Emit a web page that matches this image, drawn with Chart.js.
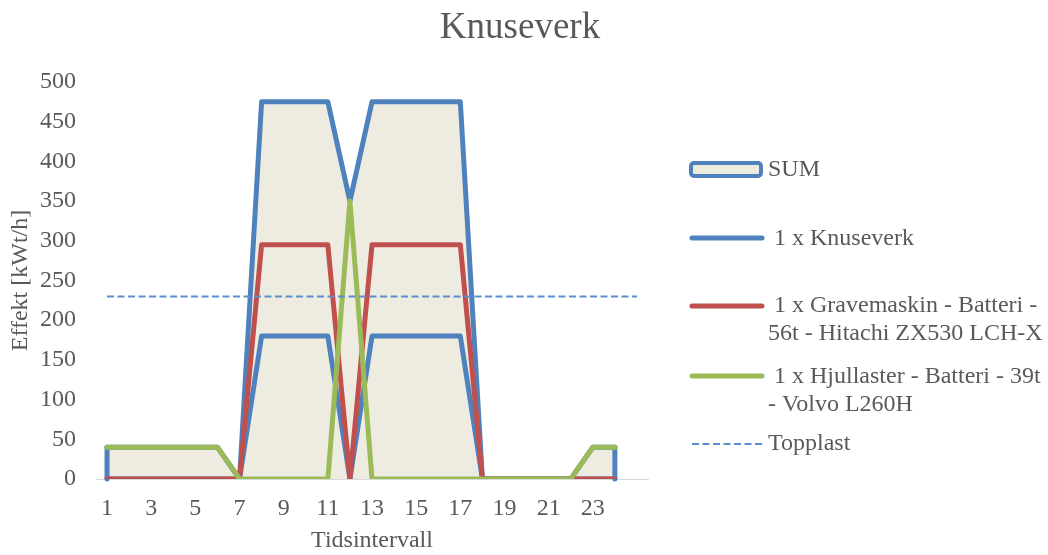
<!DOCTYPE html>
<html>
<head>
<meta charset="utf-8">
<script src="https://cdn.jsdelivr.net/npm/chart.js@4/dist/chart.umd.min.js"></script>
<style>
  html, body { margin: 0; padding: 0; background: #ffffff; }
  #wrap { width: 1048px; height: 555px; }
</style>
</head>
<body>
<div id="wrap"><canvas id="c" width="1048" height="555"></canvas></div>
<script>
// Time intervals (the last slot is an empty category used by the peak-load line)
const categories = ['1','2','3','4','5','6','7','8','9','10','11','12','13','14','15','16','17','18','19','20','21','22','23','24',''];

// Power per interval [kWt/h]
const sumValues        = [40,40,40,40,40,40,0,475,475,475,475,350,475,475,475,475,475,0,0,0,0,0,40,40];
const knuseverkValues  = [0,0,0,0,0,0,0,180,180,180,180,0,180,180,180,180,180,0,0,0,0,0,0,0];
const gravemaskinValues= [0,0,0,0,0,0,0,295,295,295,295,0,295,295,295,295,295,0,0,0,0,0,0,0];
const hjullasterValues = [40,40,40,40,40,40,0,0,0,0,0,350,0,0,0,0,0,0,0,0,0,0,40,40];
const topplastValues   = [230,230,230,230,230,230,230,230,230,230,230,230,230,230,230,230,230,230,230,230,230,230,230,230,230];

const yTicks = [0,50,100,150,200,250,300,350,400,450,500];

const chartTitle = 'Knuseverk';
const seriesNames = {
  sum: 'SUM',
  knuseverk: ' 1 x Knuseverk',
  gravemaskin: [' 1 x Gravemaskin - Batteri -', '56t - Hitachi ZX530 LCH-X'],
  hjullaster: [' 1 x Hjullaster - Batteri - 39t', '- Volvo L260H'],
  topplast: 'Topplast'
};

const BLUE = '#4F81BD', RED = '#C0504D', GREEN = '#9BBB59', BEIGE = '#EEECE1', DASH = '#5B8ED0';
const TEXT = '#595959';
const FONT = '"Liberation Serif", "Times New Roman", serif';

// Closes the SUM area outline with vertical edges at both ends
const areaEdges = {
  id: 'areaEdges',
  afterDatasetDraw(chart, args) {
    if (args.index !== 0) return;
    const meta = chart.getDatasetMeta(0);
    const pts = meta.data;
    const y0 = chart.scales.y.getPixelForValue(0);
    const ctx = chart.ctx;
    ctx.save();
    ctx.strokeStyle = BLUE;
    ctx.lineWidth = 5;
    ctx.lineCap = 'round';
    [pts[0], pts[pts.length - 1]].forEach(p => {
      ctx.beginPath();
      ctx.moveTo(p.x, y0);
      ctx.lineTo(p.x, p.y);
      ctx.stroke();
    });
    ctx.restore();
  }
};

// Chart heading centred on the full canvas width
const headline = {
  id: 'headline',
  afterDraw(chart) {
    const ctx = chart.ctx;
    ctx.save();
    ctx.font = '37px ' + FONT;
    ctx.fillStyle = TEXT;
    ctx.textAlign = 'center';
    ctx.textBaseline = 'middle';
    ctx.fillText(chartTitle, chart.width / 2 - 4, 28);
    ctx.restore();
  }
};

// Legend drawn to the right of the plot
const sideLegend = {
  id: 'sideLegend',
  afterDraw(chart) {
    const ctx = chart.ctx;
    const x0 = 692, x1 = 762, tx = 768;
    ctx.save();
    ctx.font = '24px ' + FONT;
    ctx.fillStyle = TEXT;
    ctx.textBaseline = 'middle';
    ctx.textAlign = 'left';

    // SUM: filled box with blue border
    const bx = 691, by = 163, bw = 70, bh = 13, r = 3;
    ctx.beginPath();
    ctx.roundRect(bx, by, bw, bh, r);
    ctx.fillStyle = BEIGE;
    ctx.fill();
    ctx.lineWidth = 4;
    ctx.strokeStyle = BLUE;
    ctx.stroke();
    ctx.fillStyle = TEXT;
    ctx.fillText(seriesNames.sum, tx, 170);

    const line = (y, color, width, dash) => {
      ctx.beginPath();
      ctx.setLineDash(dash || []);
      ctx.lineCap = dash ? 'butt' : 'round';
      ctx.strokeStyle = color;
      ctx.lineWidth = width;
      ctx.moveTo(x0, y);
      ctx.lineTo(x1, y);
      ctx.stroke();
      ctx.setLineDash([]);
    };

    line(238, BLUE, 5);
    ctx.fillText(seriesNames.knuseverk, tx, 239);

    line(306, RED, 5);
    ctx.fillText(seriesNames.gravemaskin[0], tx, 306);
    ctx.fillText(seriesNames.gravemaskin[1], tx, 334);

    line(376, GREEN, 5);
    ctx.fillText(seriesNames.hjullaster[0], tx, 377);
    ctx.fillText(seriesNames.hjullaster[1], tx, 405);

    line(444, DASH, 2, [7, 3.5]);
    ctx.fillText(seriesNames.topplast, tx, 444);
    ctx.restore();
  }
};

const common = { pointRadius: 0, pointHoverRadius: 0, tension: 0, borderJoinStyle: 'round', borderCapStyle: 'round' };

new Chart(document.getElementById('c'), {
  type: 'line',
  data: {
    labels: categories,
    datasets: [
      { ...common, label: seriesNames.sum, data: sumValues, borderColor: BLUE, backgroundColor: BEIGE, borderWidth: 5, fill: 'origin', order: 5 },
      { ...common, label: seriesNames.knuseverk, data: knuseverkValues, borderColor: BLUE, borderWidth: 5, fill: false, order: 4 },
      { ...common, label: seriesNames.gravemaskin.join(' '), data: gravemaskinValues, borderColor: RED, borderWidth: 5, fill: false, order: 3 },
      { ...common, label: seriesNames.hjullaster.join(' '), data: hjullasterValues, borderColor: GREEN, borderWidth: 5, fill: false, order: 2 },
      { ...common, label: seriesNames.topplast, data: topplastValues, borderColor: DASH, borderWidth: 2, borderDash: [7, 3.5], borderCapStyle: 'butt', fill: false, order: 1 }
    ]
  },
  options: {
    responsive: false,
    animation: false,
    events: [],
    layout: { padding: { left: 4, right: 400, top: 82, bottom: 0 } },
    plugins: {
      legend: { display: false },
      tooltip: { enabled: false },
      title: { display: false }
    },
    scales: {
      x: {
        offset: true,
        afterFit: (scale) => { scale.height = 76; },
        grid: { display: false, drawTicks: false },
        border: { display: true, color: '#D9D9D9', width: 1 },
        ticks: {
          autoSkip: false,
          maxRotation: 0,
          padding: 15,
          color: TEXT,
          font: { family: FONT, size: 24 },
          callback: (v, i) => (i % 2 === 0 ? categories[i] : '')
        },
        title: {
          display: true,
          text: 'Tidsintervall',
          color: TEXT,
          font: { family: FONT, size: 24 },
          padding: { top: 5, bottom: 0 }
        }
      },
      y: {
        min: yTicks[0],
        max: yTicks[yTicks.length - 1],
        afterBuildTicks: (scale) => { scale.ticks = yTicks.map(v => ({ value: v })); },
        afterFit: (scale) => { scale.width = 92; },
        grid: { display: false, drawTicks: false },
        border: { display: false },
        ticks: {
          padding: 20,
          color: TEXT,
          font: { family: FONT, size: 24 }
        },
        title: {
          display: true,
          text: 'Effekt [kWt/h]',
          color: TEXT,
          font: { family: FONT, size: 24 },
          padding: { top: 2, bottom: 5 }
        }
      }
    }
  },
  plugins: [areaEdges, headline, sideLegend]
});
</script>
</body>
</html>
